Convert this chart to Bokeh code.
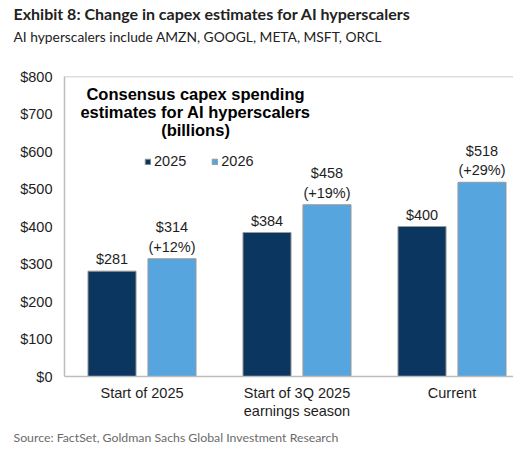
from bokeh.plotting import figure
from bokeh.models import (Range1d, FixedTicker, Label, Legend, LegendItem, Span,
                          ColumnDataSource, NumeralTickFormatter, Title)
from bokeh.core.properties import value
from bokeh.embed import file_html
from bokeh.resources import INLINE

# ---- data ----
categories = ["Start of 2025", "Start of 3Q 2025\nearnings season", "Current"]
capex_2025 = [281, 384, 400]
capex_2026 = [314, 458, 518]
pct_change_2026 = ["+12%", "+19%", "+29%"]
series_names = ["2025", "2026"]
y_ticks = [0, 100, 200, 300, 400, 500, 600, 700, 800]

DARK = "#0a365f"
LIGHT = "#56a5df"
EDGE = "#9a9a9a"
AXIS = "#bdbdbd"
TXT = "#1e1e1e"
FONT = "Liberation Sans"

pos = [i + 0.5 for i in range(len(categories))]
off = 0.1935
bw = 0.31

src25 = ColumnDataSource(dict(
    x=[p - off for p in pos], top=capex_2025,
    label=[f"${v}" for v in capex_2025]))
src26 = ColumnDataSource(dict(
    x=[p + off for p in pos], top=capex_2026,
    label=[f"${v}\n({c})" for v, c in zip(capex_2026, pct_change_2026)]))

p = figure(width=513, height=450, output_backend="svg", toolbar_location=None,
           title=None,
           x_range=Range1d(0, 449 / 155), y_range=Range1d(0, 800),
           min_border_left=64, min_border_right=0, min_border_top=73,
           min_border_bottom=72)
p.outline_line_color = None
p.grid.visible = False
p.background_fill_color = "white"
p.border_fill_color = "white"

r25 = p.vbar(x="x", top="top", width=bw, source=src25, fill_color=DARK,
             line_color=EDGE, line_width=1)
r26 = p.vbar(x="x", top="top", width=bw, source=src26, fill_color=LIGHT,
             line_color=EDGE, line_width=1)

for s in (src25, src26):
    p.text(x="x", y="top", text="label", source=s, text_align="center",
           text_baseline="bottom", y_offset=-4, text_font=value(FONT),
           text_font_size="14.5px", text_color=TXT, text_line_height=1.22)

# top frame line
p.add_layout(Span(location=800, dimension="width", line_color=AXIS, line_width=1.5))

# axes
xa = p.xaxis[0]
xa.ticker = FixedTicker(ticks=pos)
xa.major_label_overrides = {pos[i]: categories[i] for i in range(len(categories))}
ya = p.yaxis[0]
ya.ticker = FixedTicker(ticks=y_ticks)
ya.formatter = NumeralTickFormatter(format="$0")
for ax in (xa, ya):
    ax.axis_line_color = AXIS
    ax.axis_line_width = 1.5
    ax.major_tick_line_color = None
    ax.minor_tick_line_color = None
    ax.major_tick_out = 0
    ax.major_tick_in = 0
    ax.major_label_text_font = FONT
    ax.major_label_text_font_size = "14.5px"
    ax.major_label_text_color = TXT
xa.major_label_standoff = 8
xa.major_label_text_line_height = 1.15
ya.major_label_standoff = 12

# legend
legend = Legend(items=[LegendItem(label=series_names[0], renderers=[r25]),
                       LegendItem(label=series_names[1], renderers=[r26])],
                orientation="horizontal", location=(80, 207),
                glyph_width=7, glyph_height=7, label_standoff=3, spacing=25,
                padding=0, margin=0, border_line_color=None,
                background_fill_alpha=0, label_text_font=FONT,
                label_text_font_size="14.5px", label_text_color=TXT)
p.add_layout(legend, "center")

# inner chart title
for txt, yy in [("Consensus capex spending", 282.5),
                ("estimates for AI hyperscalers", 264.7),
                ("(billions)", 246.7)]:
    p.add_layout(Label(x=131, y=yy, x_units="screen", y_units="screen", text=txt,
                       text_align="center", text_baseline="middle",
                       text_font=FONT, text_font_style="bold",
                       text_font_size="16.5px", text_color="black"))

# page title, subtitle (above) and source (below)
spacer = Title(text=" ", standoff=12, text_font_size="16px", text_color="white")
p.add_layout(spacer, "above")
subtitle = Title(text="AI hyperscalers include AMZN, GOOGL, META, MSFT, ORCL",
                 align="left", offset=-51, standoff=2,
                 text_font="Lato", text_font_style="normal",
                 text_font_size="13.8px", text_color="#222222")
p.add_layout(subtitle, "above")
main_title = Title(text="Exhibit 8: Change in capex estimates for AI hyperscalers",
                   align="left", offset=-51, standoff=3, text_font="Lato",
                   text_font_style="bold", text_font_size="16px",
                   text_color="#222222")
p.add_layout(main_title, "above")
source = Title(text="Source: FactSet, Goldman Sachs Global Investment Research",
               align="left", offset=-51, standoff=12, text_font="Lato",
               text_font_style="normal", text_font_size="12.3px",
               text_color="#6b6b6b")
p.add_layout(source, "below")

open("out.html", "w").write(file_html(p, INLINE))
